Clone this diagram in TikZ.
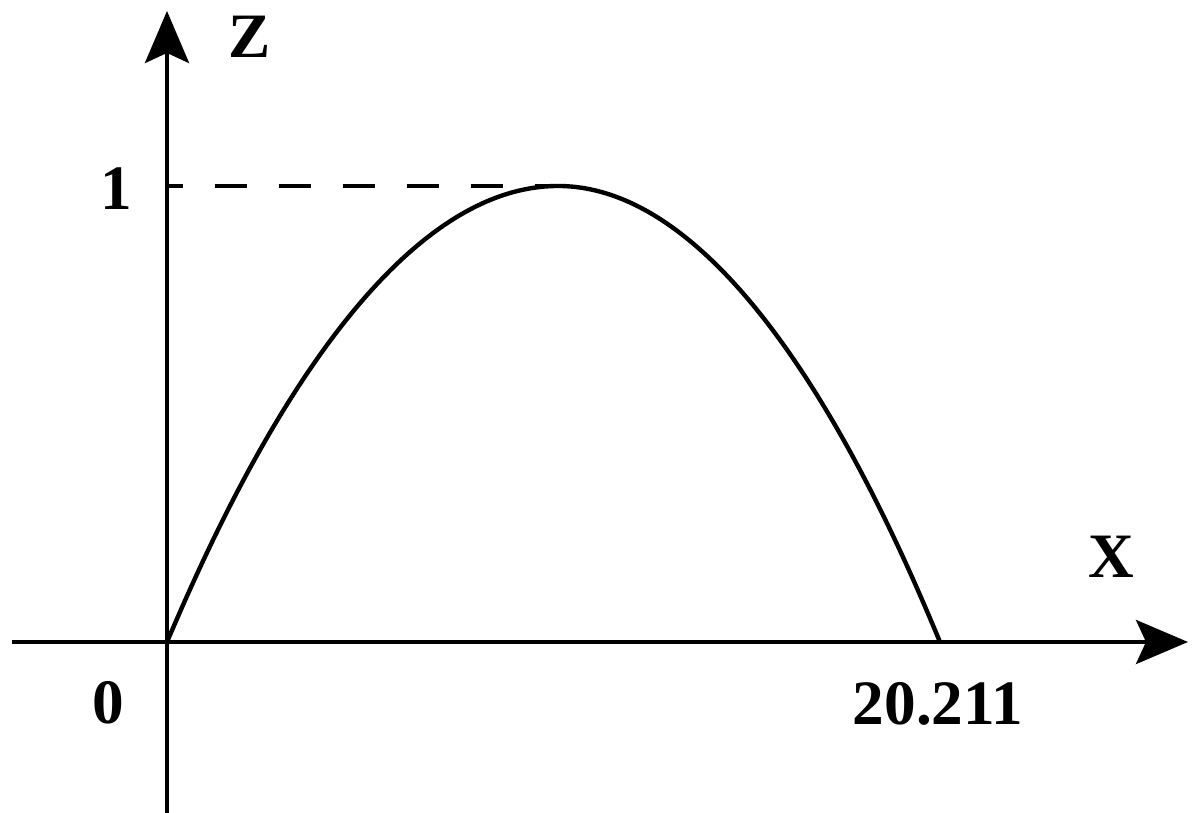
\documentclass[tikz,border=0pt]{standalone}
\usepackage{fontspec}
\setmainfont{Liberation Serif}
\usetikzlibrary{arrows.meta}

\begin{document}
\begin{tikzpicture}[x=0.02cm,y=0.02cm,
    axis/.style={line width=2.5pt,-{Stealth[length=1.04cm,width=0.88cm,inset=0.2cm]}},
    lbl/.style={font=\fontsize{36}{40}\selectfont\bfseries,inner sep=0pt}]
  \useasboundingbox (-167,-171) rectangle (1031,642);
  \coordinate (O) at (0,0);
  \coordinate (xs) at (-155,0);
  \coordinate (xe) at (1021,0);
  \coordinate (zs) at (0,-171);
  \coordinate (ze) at (0,631);
  \coordinate (top) at (391,456);
  \coordinate (root) at (773,0);
  \coordinate (tick) at (0,456);
  % axes
  \draw[axis] (xs) -- (xe);
  \draw[axis] (zs) -- (ze);
  % level z = 1 and the curve
  \draw[line width=2.5pt,dash pattern=on 0.64cm off 0.64cm,dash phase=0.32cm] (tick) -- (top);
  \draw[line width=2.5pt] (O) parabola bend (top) (root);
  \node[lbl] (zlab) at (83,605) {Z};
  \node[lbl] (xlab) at (944,85) {X};
  \node[lbl] (one) at (-51,453) {1};
  \node[lbl] (zero) at (-59,-61) {0};
  \node[lbl] (end) at (771,-62) {20.211};
\end{tikzpicture}
\end{document}
